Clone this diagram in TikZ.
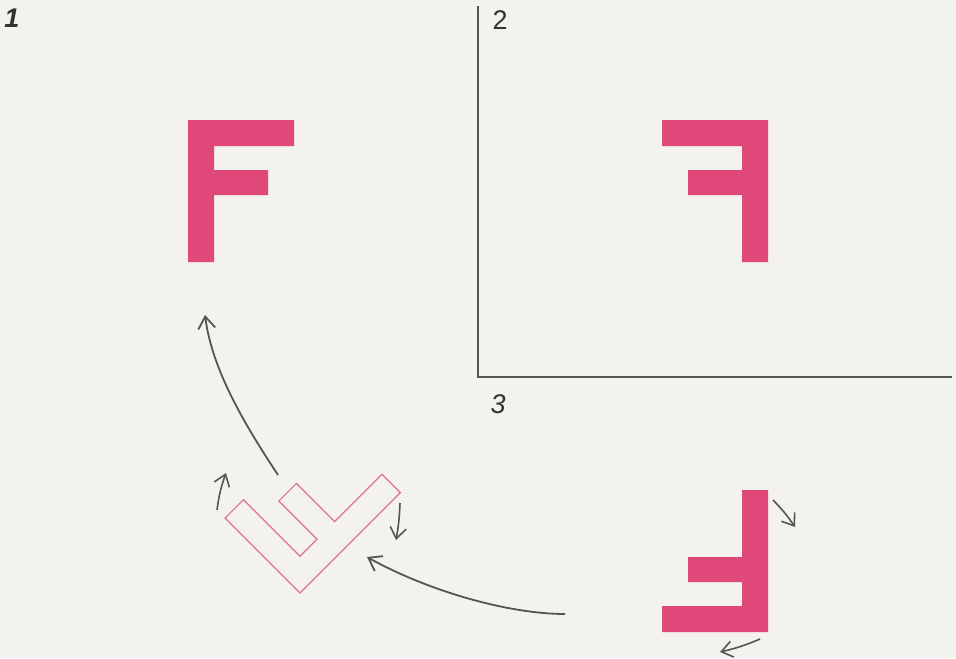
\documentclass[tikz,border=0pt]{standalone}
\usepackage{fontspec}
\setmainfont{Liberation Sans}
\usetikzlibrary{arrows.meta}
\definecolor{fpink}{RGB}{224,72,122}
\definecolor{fline}{RGB}{224,112,142}
\definecolor{bg}{RGB}{243,242,238}
\definecolor{ink}{RGB}{85,85,85}
\tikzset{
  fshape/.style={fill=fpink, draw=none},
  foutline/.style={draw=fline, line width=0.6pt, fill=none, line join=miter},
  axisline/.style={draw=ink, line width=0.9pt},
  bigarrow/.style={draw=ink, line width=0.9pt, -{Straight Barb[length=6pt,width=8.5pt]}},
  smallarrow/.style={draw=ink, line width=0.8pt, -{Straight Barb[length=5.5pt,width=8pt]}},
  lbl/.style={font=\fontsize{13.5}{15}\selectfont, text=black!80, inner sep=0pt}
}
\newcommand{\Fshape}{(0,0) -- (106,0) -- (106,26) -- (26,26) -- (26,50) -- (80,50) -- (80,75) -- (26,75) -- (26,142) -- (0,142) -- cycle}
\begin{document}
\begin{tikzpicture}[x=0.5pt,y=-0.5pt]
\fill[bg] (0,0) rectangle (956,658);
\useasboundingbox (0,0) rectangle (956,658);
% axes
\coordinate (axtop) at (478,6);
\coordinate (axcorner) at (478,377);
\coordinate (axright) at (952,377);
\draw[axisline] (axtop) -- (axcorner) -- (axright);
% labels
\node[lbl] (l1) at (12,18) {\bfseries\itshape 1};
\node[lbl] (l2) at (500,20) {2};
\node[lbl] (l3) at (498,404) {\itshape 3};
% F 1 (upright)
\begin{scope}[shift={(188,120)}]
  \path[fshape] \Fshape;
\end{scope}
% F 2 (mirrored)
\begin{scope}[shift={(768,120)}, xscale=-1]
  \path[fshape] \Fshape;
\end{scope}
% F 3 (rotated 180)
\begin{scope}[shift={(768,632)}, rotate=180]
  \path[fshape] \Fshape;
\end{scope}
% middle outline F (rotated 135)
\begin{scope}[shift={(300,593)}, rotate=135]
  \path[foutline] \Fshape;
\end{scope}
% arrow end points
\coordinate (a1s) at (278,475);
\coordinate (a1e) at (205,315);
\coordinate (a2s) at (565,614);
\coordinate (a2e) at (367,557);
\coordinate (s1s) at (217,510);
\coordinate (s1e) at (226,473);
\coordinate (s2s) at (400,503);
\coordinate (s2e) at (396,540);
\coordinate (s3s) at (773,500);
\coordinate (s3e) at (795,527);
\coordinate (s4s) at (760,639);
\coordinate (s4e) at (720,652);
\draw[bigarrow] (a1s) .. controls (245,425) and (212,370) .. (a1e);
\draw[bigarrow] (a2s) .. controls (510,614) and (430,592) .. (a2e);
\draw[smallarrow] (s1s) to[bend left=6] (s1e);
\draw[smallarrow] (s2s) to[bend left=4] (s2e);
\draw[smallarrow] (s3s) to[bend left=5] (s3e);
\draw[smallarrow] (s4s) to[bend left=5] (s4e);
\end{tikzpicture}
\end{document}
